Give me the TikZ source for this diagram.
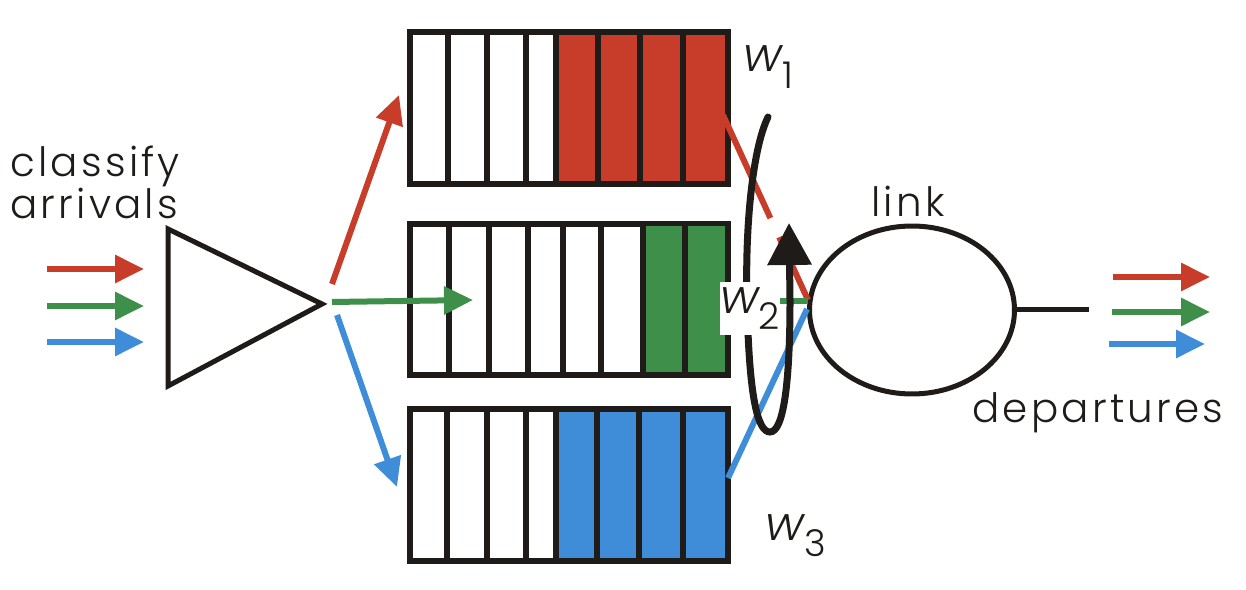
\documentclass[tikz,border=0pt]{standalone}
\usepackage{fontspec}
\setmainfont{Poppins}[UprightFont=* Light, ItalicFont=* Light Italic, LetterSpace=8]
\usetikzlibrary{shapes.geometric,arrows.meta}
\definecolor{qred}{RGB}{200,60,42}
\definecolor{qgreen}{RGB}{62,143,74}
\definecolor{qblue}{RGB}{63,140,217}
\definecolor{ink}{RGB}{30,27,24}
\newcommand\wsub[2]{{\fontsize{27}{27}\selectfont\itshape #1}\raisebox{-0.4em}{\fontsize{21}{21}\selectfont #2}}
\tikzset{
  queue/.style={draw=ink, line width=0.12cm, minimum width=6.36cm, minimum height=3.04cm, inner sep=0pt},
  divider/.style={draw=ink, line width=0.12cm},
  flow/.style={line width=0.12cm, -{Triangle[length=0.58cm,width=0.54cm]}},
  feed/.style={line width=0.12cm},
  loopline/.style={draw=ink, line width=0.14cm, line cap=round, -{Triangle[length=0.84cm,width=0.86cm]}},
  linkshape/.style={ellipse, draw=ink, line width=0.1cm, minimum width=4.1cm, minimum height=3.36cm, inner sep=0pt},
  lab/.style={font=\fontsize{23}{25}\selectfont, text=ink, inner sep=0pt},
}
\begin{document}
\begin{tikzpicture}[x=0.02cm,y=-0.02cm]
\useasboundingbox (0,0) rectangle (1246,590);

% text
\node[lab, anchor=base west] (classify) at (10,177) {classify};
\node[lab, anchor=base west] (arrivals) at (10,219) {arrivals};
\node[lab, anchor=base] (linklab) at (908,217) {link};
\node[lab, anchor=base west] (dep) at (972,423) {departures};

% classifier triangle
\coordinate (tA) at (168,229);
\coordinate (tB) at (322,304);
\coordinate (tC) at (168,386);
\draw[ink, line width=0.1cm, line join=miter] (tA) -- (tB) -- (tC) -- cycle;

% incoming arrows
\coordinate (ir0) at (47,269);  \coordinate (ir1) at (144,269);
\coordinate (ig0) at (47,306);  \coordinate (ig1) at (144,306);
\coordinate (ib0) at (47,342);  \coordinate (ib1) at (144,342);
\draw[flow, qred] (ir0) -- (ir1);
\draw[flow, qgreen] (ig0) -- (ig1);
\draw[flow, qblue] (ib0) -- (ib1);

% queues
\node[queue] (q1) at (569,108) {};
\node[queue] (q2) at (569,299.5) {};
\node[queue] (q3) at (569,485) {};

\fill[qred] (556,35) rectangle (725,181);
\foreach \x in {448,487,526,556,598,640,683} \draw[divider] (\x,35) -- (\x,181);
\fill[qgreen] (643,226.5) rectangle (725,372.5);
\foreach \x in {449,489,528,563,601,643,685} \draw[divider] (\x,226.5) -- (\x,372.5);
\fill[qblue] (556,412) rectangle (725,558);
\foreach \x in {447,487,526,556,597,639,683} \draw[divider] (\x,412) -- (\x,558);

% outgoing from classifier
\coordinate (or0) at (332,284); \coordinate (or1) at (399,95);
\coordinate (og0) at (332,302); \coordinate (og1) at (473,300);
\coordinate (ob0) at (337,315); \coordinate (ob1) at (397,487);
\draw[flow, qred] (or0) -- (or1);
\draw[flow, qgreen] (og0) -- (og1);
\draw[flow, qblue] (ob0) -- (ob1);

% link
\node[linkshape] (link) at (912,310) {};
\coordinate (lout) at (1089,310);
\draw[ink, line width=0.1cm] (link.east) -- (lout);

% feeds into link
\coordinate (fr0) at (723,115); \coordinate (fr1) at (808,300);
\coordinate (fg0) at (731,301); \coordinate (fg1) at (808,301);
\coordinate (fb0) at (728,478); \coordinate (fb1) at (807,309);
\draw[feed, qred, dash pattern=on 2.27cm off 0.42cm on 3cm] (fr0) -- (fr1);
\draw[feed, qgreen] (fg0) -- (fg1);
\draw[feed, qblue] (fb0) -- (fb1);

% round-robin loop
\coordinate (l0) at (768,117);
\coordinate (l1) at (747,300);
\coordinate (l2) at (770,432);
\coordinate (l3) at (790,300);
\coordinate (l4) at (789,223);
\draw[loopline] (l0) .. controls (752,150) and (745,230) .. (l1)
  .. controls (749,400) and (758,432) .. (l2)
  .. controls (784,432) and (790,380) .. (l3) -- (l4);

% weights
\node[lab, anchor=base west] (w1) at (743,72) {\wsub{w}{1}};
\node[lab, fill=white, minimum width=1.08cm, minimum height=1.06cm] (w2) at (750,308.5) {\wsub{w}{2}};
\node[lab, anchor=base west] (w3) at (765,540) {\wsub{w}{3}};

% departures
\coordinate (dr0) at (1113,277); \coordinate (dr1) at (1210,277);
\coordinate (dg0) at (1112,312); \coordinate (dg1) at (1210,312);
\coordinate (db0) at (1109,344); \coordinate (db1) at (1205,344);
\draw[flow, qred] (dr0) -- (dr1);
\draw[flow, qgreen] (dg0) -- (dg1);
\draw[flow, qblue] (db0) -- (db1);
\end{tikzpicture}
\end{document}
